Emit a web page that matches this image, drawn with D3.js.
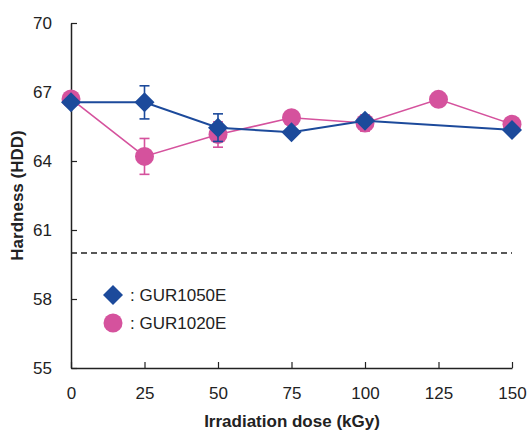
<!DOCTYPE html>
<html><head><meta charset="utf-8">
<script src="https://cdn.jsdelivr.net/npm/d3@7/dist/d3.min.js"></script>
<style>body{margin:0;background:#fff;} svg{display:block;font-family:Arial,"Liberation Sans",sans-serif;}</style>
</head><body>
<script>
const doses = [0, 25, 50, 75, 100, 125, 150];
const gur1050Dose = [0, 25, 50, 75, 100, 150];
const gur1050 = [66.55, 66.55, 65.45, 65.25, 65.75, 65.35];
const gur1050Err = [0, 0.72, 0.6, 0, 0, 0];
const gur1020Dose = [0, 25, 50, 75, 100, 125, 150];
const gur1020 = [66.7, 64.2, 65.15, 65.88, 65.65, 66.68, 65.6];
const gur1020Err = [0, 0.78, 0.55, 0, 0.35, 0, 0];
const yTicks = [55, 58, 61, 64, 67, 70];
const refLine = 60;
const seriesNames = [": GUR1050E", ": GUR1020E"];

const W = 529, H = 430;
const blue = "#1c4a9b", pink = "#d5529d";
const svg = d3.select("body").append("svg").attr("width", W).attr("height", H);
const x = d3.scaleLinear().domain([0, 150]).range([71, 512]);
const y = d3.scaleLinear().domain([55, 70]).range([368, 23]);

// axes
const xAxis = d3.axisBottom(x).tickValues(doses).tickSizeInner(-6).tickSizeOuter(0).tickPadding(19);
const gx = svg.append("g").attr("transform", `translate(0,${y(55)})`).call(xAxis);
gx.select(".domain").attr("stroke", "#222").attr("stroke-width", 1.5);
gx.selectAll(".tick line").attr("stroke", "#222").attr("stroke-width", 1.2);
gx.selectAll("text").attr("font-size", 17).attr("fill", "#222");

const yAxis = d3.axisLeft(y).tickValues(yTicks).tickSizeInner(-6).tickSizeOuter(0).tickPadding(19);
const gy = svg.append("g").attr("transform", `translate(${x(0)},0)`).call(yAxis);
gy.select(".domain").attr("stroke", "#222").attr("stroke-width", 1.5);
gy.selectAll(".tick line").attr("stroke", "#222").attr("stroke-width", 1.2);
gy.selectAll("text").attr("font-size", 17).attr("fill", "#222");

// titles
svg.append("text").attr("x", 292).attr("y", 427).attr("text-anchor", "middle")
  .attr("font-size", 17).attr("font-weight", "bold").attr("fill", "#222").text("Irradiation dose (kGy)");
svg.append("text").attr("transform", `translate(23,${(y(55)+y(70))/2}) rotate(-90)`).attr("text-anchor", "middle")
  .attr("font-size", 17).attr("font-weight", "bold").attr("fill", "#222").text("Hardness (HDD)");

// dashed reference
svg.append("line").attr("x1", x(0)).attr("x2", x(150)).attr("y1", y(refLine)).attr("y2", y(refLine))
  .attr("stroke", "#222").attr("stroke-width", 1.6).attr("stroke-dasharray", "6,4");

function drawSeries(xs, ys, errs, color, lw) {
  const pts = xs.map((d, i) => ({x: d, y: ys[i], e: errs[i]}));
  const g = svg.append("g");
  g.append("path").datum(pts).attr("fill", "none").attr("stroke", color).attr("stroke-width", lw)
    .attr("d", d3.line().x(d => x(d.x)).y(d => y(d.y)));
  pts.filter(d => d.e > 0).forEach(d => {
    const cx = x(d.x);
    g.append("line").attr("x1", cx).attr("x2", cx).attr("y1", y(d.y + d.e)).attr("y2", y(d.y - d.e)).attr("stroke", color).attr("stroke-width", 1.6);
    [d.y + d.e, d.y - d.e].forEach(v => g.append("line").attr("x1", cx - 5).attr("x2", cx + 5).attr("y1", y(v)).attr("y2", y(v)).attr("stroke", color).attr("stroke-width", 1.6));
  });
  return {g, pts};
}
const s2 = drawSeries(gur1020Dose, gur1020, gur1020Err, pink, 1.6);
s2.g.selectAll("circle").data(s2.pts).join("circle").attr("cx", d => x(d.x)).attr("cy", d => y(d.y)).attr("r", 9.5).attr("fill", pink);
const s1 = drawSeries(gur1050Dose, gur1050, gur1050Err, blue, 2);
const diamond = d3.symbol().type(d3.symbolSquare).size(200);
s1.g.selectAll(".dm").data(s1.pts).join("path").attr("class", "dm")
  .attr("transform", d => `translate(${x(d.x)},${y(d.y)}) rotate(45)`).attr("d", diamond).attr("fill", blue);

// legend
const leg = svg.append("g");
leg.append("path").attr("transform", "translate(113,295) rotate(45)").attr("d", diamond).attr("fill", blue);
leg.append("circle").attr("cx", 113).attr("cy", 323).attr("r", 9.5).attr("fill", pink);
leg.append("text").attr("x", 130).attr("y", 301).attr("font-size", 17).attr("fill", "#222").text(seriesNames[0]);
leg.append("text").attr("x", 130).attr("y", 329).attr("font-size", 17).attr("fill", "#222").text(seriesNames[1]);
</script>
</body></html>
